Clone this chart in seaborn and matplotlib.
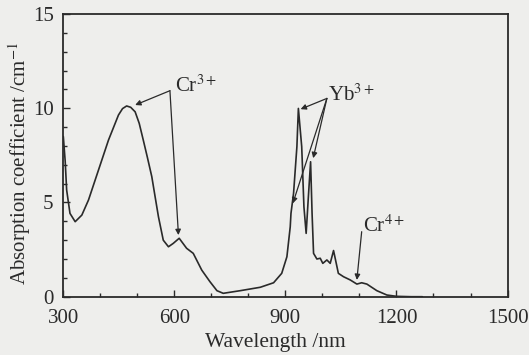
import matplotlib
matplotlib.use("Agg")
import matplotlib.pyplot as plt
import seaborn as sns
import pandas as pd
from matplotlib.ticker import MultipleLocator

wavelength = [300, 305, 309, 318, 332, 350, 368, 395, 422, 449, 460, 471, 482, 494,
              505, 516, 527, 539, 548, 557, 570, 584, 597, 613, 633, 651, 674, 696,
              715, 732, 778, 832, 868, 890, 904, 913, 915, 922, 931, 935, 944, 950,
              956, 962, 968, 972, 976, 985, 994, 1001, 1012, 1021, 1030, 1043, 1057,
              1075, 1093, 1106, 1120, 1147, 1174, 1200, 1240, 1270]
absorption = [8.5, 7.2, 5.66, 4.42, 3.98, 4.33, 5.13, 6.72, 8.31, 9.64, 9.98, 10.12,
              10.05, 9.81, 9.2, 8.31, 7.4, 6.37, 5.3, 4.24, 3.0, 2.65, 2.83, 3.1, 2.57,
              2.3, 1.41, 0.8, 0.32, 0.18, 0.32, 0.5, 0.74, 1.24, 2.12, 3.71, 4.42, 5.49,
              7.96, 9.99, 7.96, 4.77, 3.36, 5.3, 7.16, 4.42, 2.3, 2.0, 2.04, 1.77, 1.95,
              1.77, 2.45, 1.24, 1.06, 0.89, 0.67, 0.74, 0.67, 0.32, 0.09, 0.02, 0.0, 0.0]

xticks = [300, 600, 900, 1200, 1500]
yticks = [0, 5, 10, 15]

df = pd.DataFrame({"Wavelength": wavelength, "Absorption": absorption})

sns.set_theme(style="ticks")
plt.rcParams["font.family"] = ["Liberation Serif", "DejaVu Serif"]
plt.rcParams["mathtext.fontset"] = "stix"

bg = "#eeeeec"
fig = plt.figure(figsize=(5.29, 3.55), dpi=100, facecolor=bg)
ax = fig.add_axes([0.1197, 0.1642, 0.9594 - 0.1197, 0.9606 - 0.1642])
ax.set_facecolor(bg)

ink = "#2a2a2a"
sns.lineplot(data=df, x="Wavelength", y="Absorption", ax=ax, color=ink, lw=1.2,
             sort=False, estimator=None)

ax.set_xlim(300, 1500)
ax.set_ylim(0, 15)
ax.set_xticks(xticks)
ax.set_yticks(yticks)
ax.xaxis.set_minor_locator(MultipleLocator(100))
ax.yaxis.set_minor_locator(MultipleLocator(1))
ax.tick_params(which="both", direction="in", colors=ink, labelsize=15,
               top=False, right=False, width=1.0)
ax.tick_params(which="major", length=5)
ax.tick_params(which="minor", length=3)
ax.tick_params(axis="x", which="major", pad=9)
ax.tick_params(axis="y", which="major", pad=7)
for s in ax.spines.values():
    s.set_color(ink)
    s.set_linewidth(1.3)

ax.set_xlabel("Wavelength /nm", fontsize=15.5, color=ink)
ax.set_ylabel("Absorption coefficient /cm$^{-1}$", fontsize=15, color=ink)
ax.xaxis.set_label_coords(0.478, -0.13)
ax.yaxis.set_label_coords(-0.068, 0.47)

arrow = dict(arrowstyle="-|>", lw=0.9, color=ink, mutation_scale=8,
             shrinkA=0, shrinkB=0)

# Cr3+
ax.text(602, 11.2, "Cr$^{3+}$", fontsize=15, color=ink, va="center", ha="left")
ax.annotate("", xy=(494, 10.17), xytext=(588, 10.93), arrowprops=arrow)
ax.annotate("", xy=(611, 3.27), xytext=(588, 10.93), arrowprops=arrow)

# Yb3+
ax.text(1016, 10.7, "Yb$^{3+}$", fontsize=15, color=ink, va="center", ha="left")
ax.annotate("", xy=(941, 9.95), xytext=(1012, 10.52), arrowprops=arrow)
ax.annotate("", xy=(920, 4.95), xytext=(1012, 10.52), arrowprops=arrow)
ax.annotate("", xy=(975, 7.35), xytext=(1012, 10.52), arrowprops=arrow)

# Cr4+
ax.text(1110, 3.75, "Cr$^{4+}$", fontsize=15, color=ink, va="center", ha="left")
ax.annotate("", xy=(1093, 0.89), xytext=(1106, 3.45), arrowprops=arrow)

fig.savefig("out.png", dpi=100, facecolor=bg)
